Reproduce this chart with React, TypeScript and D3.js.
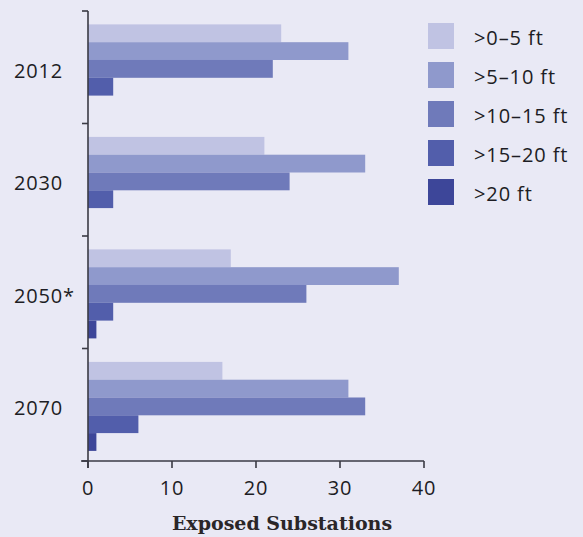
import React, { useEffect, useRef } from 'react';
import * as d3 from 'd3';

const years = ['2012', '2030', '2050*', '2070'];
const depthBins = ['>0–5 ft', '>5–10 ft', '>10–15 ft', '>15–20 ft', '>20 ft'];

// exposed substations per year, one array per depth bin
const bin0to5 = [23, 21, 17, 16];
const bin5to10 = [31, 33, 37, 31];
const bin10to15 = [22, 24, 26, 33];
const bin15to20 = [3, 3, 3, 6];
const binOver20 = [0, 0, 1, 1];

const xTicks = [0, 10, 20, 30, 40];
const binColors = ['#c0c3e3', '#8f99cc', '#6f7aba', '#525eab', '#3d4699'];

const WIDTH = 583;
const HEIGHT = 537;
const SANS = '"Open Sans", "Noto Sans", sans-serif';

const App: React.FC = () => {
  const svgRef = useRef<SVGSVGElement>(null);

  useEffect(() => {
    if (!svgRef.current) return;
    const svg = d3.select(svgRef.current);
    svg.selectAll('*').remove();

    const series = [bin0to5, bin5to10, bin10to15, bin15to20, binOver20];
    const margin = { top: 11, left: 88, right: 159, bottom: 76 };
    const plotW = WIDTH - margin.left - margin.right;
    const plotH = HEIGHT - margin.top - margin.bottom;

    svg.append('rect').attr('width', WIDTH).attr('height', HEIGHT).attr('fill', '#e9e9f5');

    const g = svg.append('g').attr('transform', `translate(${margin.left},${margin.top})`);

    const x = d3.scaleLinear().domain([0, 40]).range([0, plotW]);
    const y = d3.scaleBand<string>().domain(years).range([0, plotH]).padding(0);
    const inner = d3
      .scaleBand<number>()
      .domain(d3.range(depthBins.length))
      .range([0, y.bandwidth()])
      .paddingInner(0)
      .paddingOuter(0.66)
      .align(0.57);

    // bars
    years.forEach((year, yi) => {
      const grp = g.append('g').attr('transform', `translate(0,${y(year)})`);
      series.forEach((vals, si) => {
        if (vals[yi] <= 0) return;
        grp
          .append('rect')
          .attr('x', x(0))
          .attr('y', inner(si) as number)
          .attr('width', x(vals[yi]) - x(0))
          .attr('height', inner.bandwidth())
          .attr('fill', binColors[si]);
      });
    });

    const axisColor = '#3a3a44';

    // y axis: line + boundary ticks
    const boundaries = years.map((yr) => y(yr) as number).concat([plotH]);
    g.append('line')
      .attr('x1', 0)
      .attr('x2', 0)
      .attr('y1', 0)
      .attr('y2', plotH + 7)
      .attr('stroke', axisColor)
      .attr('stroke-width', 1.6);
    boundaries.forEach((b) => {
      g.append('line')
        .attr('x1', -6)
        .attr('x2', 0)
        .attr('y1', b)
        .attr('y2', b)
        .attr('stroke', axisColor)
        .attr('stroke-width', 1.6);
    });

    // year labels
    years.forEach((year) => {
      g.append('text')
        .attr('x', 14 - margin.left)
        .attr('y', (y(year) as number) + y.bandwidth() / 2 + 3)
        .attr('dominant-baseline', 'central')
        .attr('font-family', SANS)
        .attr('font-size', 20)
        .attr('letter-spacing', 0.8)
        .attr('fill', '#1d1d24')
        .text(year);
    });

    // x axis
    g.append('line')
      .attr('x1', -7)
      .attr('x2', plotW)
      .attr('y1', plotH)
      .attr('y2', plotH)
      .attr('stroke', axisColor)
      .attr('stroke-width', 1.6);
    xTicks.forEach((t) => {
      g.append('line')
        .attr('x1', x(t))
        .attr('x2', x(t))
        .attr('y1', plotH)
        .attr('y2', plotH + 7)
        .attr('stroke', axisColor)
        .attr('stroke-width', 1.6);
      g.append('text')
        .attr('x', x(t))
        .attr('y', plotH + 26)
        .attr('text-anchor', 'middle')
        .attr('dominant-baseline', 'central')
        .attr('font-family', SANS)
        .attr('font-size', 20)
        .attr('letter-spacing', 0.8)
        .attr('fill', '#1d1d24')
        .text(t);
    });

    svg
      .append('text')
      .attr('x', 282)
      .attr('y', 530)
      .attr('text-anchor', 'middle')
      .attr('font-family', '"DejaVu Serif", serif')
      .attr('font-weight', 'bold')
      .attr('font-size', 19)
      .attr('fill', '#2a2628')
      .text('Exposed Substations');

    // legend
    const legend = svg.append('g').attr('transform', 'translate(428,23)');
    depthBins.forEach((label, i) => {
      const row = legend.append('g').attr('transform', `translate(0,${i * 39})`);
      row.append('rect').attr('width', 26).attr('height', 26).attr('fill', binColors[i]);
      row
        .append('text')
        .attr('x', 46)
        .attr('y', 14)
        .attr('dominant-baseline', 'central')
        .attr('font-family', SANS)
        .attr('font-size', 20)
        .attr('letter-spacing', 0.9)
        .attr('fill', '#1d1d24')
        .text(label);
    });
  }, []);

  return (
    <svg
      ref={svgRef}
      width={WIDTH}
      height={HEIGHT}
      style={{ position: 'absolute', top: 0, left: 0, display: 'block' }}
    />
  );
};

export default App;
